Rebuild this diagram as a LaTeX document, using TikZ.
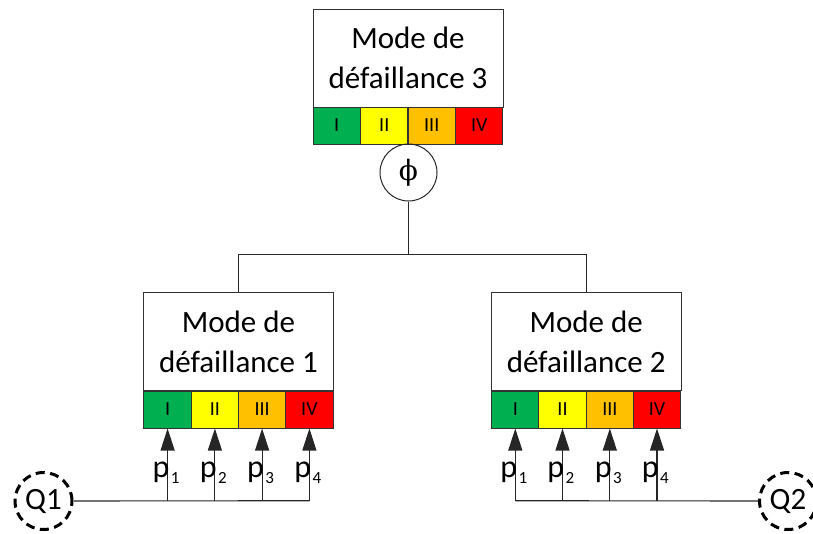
\documentclass[tikz,border=0pt]{standalone}
\usepackage{fontspec}
\setmainfont{Carlito}
\newfontfamily\phifont{DejaVu Serif}
\usetikzlibrary{arrows.meta}
\definecolor{cI}{HTML}{00B050}
\definecolor{cII}{HTML}{FFFF00}
\definecolor{cIII}{HTML}{FFC000}
\definecolor{cIV}{HTML}{FF0000}
\begin{document}
\begin{tikzpicture}[x=1pt,y=-1pt,
  mbox/.style={draw=black!80, line width=1pt, rectangle, minimum width=190pt, minimum height=98pt, inner sep=0pt, align=center, font=\fontsize{31}{40}\selectfont},
  cell/.style={draw=black!80, line width=1pt, rectangle, minimum width=47.4pt, minimum height=37pt, inner sep=0pt, font=\fontsize{20}{24}\selectfont},
  qnode/.style={draw, circle, dash pattern=on 9pt off 5.5pt, line width=3pt, minimum size=57pt, inner sep=0pt, font=\fontsize{31}{34}\selectfont},
  conn/.style={draw=black!85, line width=1.1pt},
  parrow/.style={conn, -{Triangle[length=22pt,width=14pt]}},
  plab/.style={inner sep=0pt, font=\fontsize{32}{34}\selectfont},
  psub/.style={inner sep=0pt, font=\fontsize{17}{18}\selectfont}
]
\useasboundingbox (0,0) rectangle (813,533);

% top box
\node[mbox] (m3) at (408,58) {Mode de\\défaillance 3};
\node[cell, fill=cI]   (c3-1) at (336.75,125.5) {I};
\node[cell, fill=cII]  (c3-2) at (384.25,125.5) {II};
\node[cell, fill=cIII] (c3-3) at (431.75,125.5) {III};
\node[cell, fill=cIV]  (c3-4) at (479.25,125.5) {IV};
\node[draw=black!85, line width=1pt, circle, minimum size=57pt, inner sep=0pt, font=\fontsize{28}{30}\selectfont\phifont] (phi) at (408.5,172.5) {ϕ};

% left box
\node[mbox] (m1) at (238.5,341.5) {Mode de\\défaillance 1};
\node[cell, fill=cI]   (c1-1) at (167.6,409.5) {I};
\node[cell, fill=cII]  (c1-2) at (214.9,409.5) {II};
\node[cell, fill=cIII] (c1-3) at (262.1,409.5) {III};
\node[cell, fill=cIV]  (c1-4) at (309.4,409.5) {IV};

% right box
\node[mbox] (m2) at (586.2,341.5) {Mode de\\défaillance 2};
\node[cell, fill=cI]   (c2-1) at (515.3,409.5) {I};
\node[cell, fill=cII]  (c2-2) at (562.5,409.5) {II};
\node[cell, fill=cIII] (c2-3) at (609.8,409.5) {III};
\node[cell, fill=cIV]  (c2-4) at (657.0,409.5) {IV};

% tree
\coordinate (j) at (408.5,254.5);
\draw[conn] (phi.south) -- (j);
\draw[conn] (m1.north) |- (j) -| (m2.north);

% Q nodes
\node[qnode] (q1) at (43.5,501) {Q1};
\node[qnode] (q2) at (788,501) {Q2};

% arrows and labels
\foreach \b in {1,2} {
  \foreach \i in {1,...,4} {
    \coordinate (b\b-\i) at (c\b-\i.south |- 0,500.7);
    \draw[parrow] (b\b-\i) -- (c\b-\i.south);
    \node[plab, anchor=base east] (pl\b-\i) at ([xshift=2pt] c\b-\i.south |- 0,477) {p};
    \node[psub, anchor=base west] (ps\b-\i) at ([xshift=3pt] c\b-\i.south |- 0,483) {\i};
  }
}
\draw[conn] (q1.east) -- (b1-4);
\draw[conn] (b2-1) -- (q2.west);
\end{tikzpicture}
\end{document}
